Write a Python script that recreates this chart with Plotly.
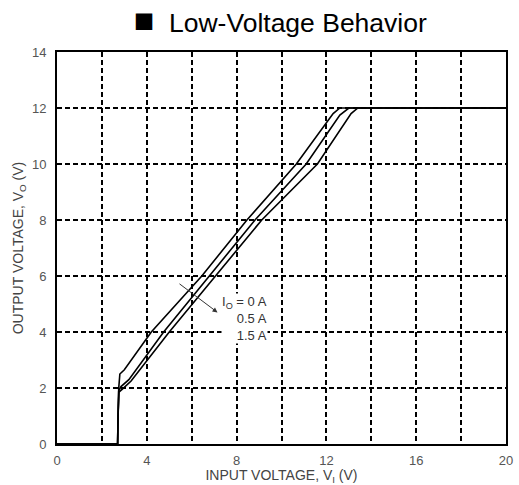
import plotly.graph_objects as go

# Data
vi_0a = [0, 2.7, 2.72, 2.75, 2.8, 3.0, 4.2, 6.45, 8.46, 10.66, 12.3, 12.6, 20]
vo_0a = [0, 0, 1.0, 2.0, 2.5, 2.65, 4.0, 6.0, 8.0, 10.0, 11.8, 12.0, 12.0]
vi_05a = [0, 2.7, 2.72, 2.75, 2.85, 3.2, 4.75, 6.8, 8.82, 11.1, 12.6, 13.0, 20]
vo_05a = [0, 0, 1.0, 1.9, 2.05, 2.3, 4.0, 6.0, 8.0, 10.0, 11.75, 12.0, 12.0]
vi_15a = [0, 2.7, 2.72, 2.76, 2.9, 3.3, 5.0, 7.06, 9.12, 11.6, 13.1, 13.4, 20]
vo_15a = [0, 0, 1.0, 1.85, 1.95, 2.25, 4.0, 6.0, 8.0, 10.0, 11.8, 12.0, 12.0]

load_labels = ["I<sub>O</sub> = 0 A", "0.5 A", "1.5 A"]

FONT = "Liberation Sans, Arial"
grid = dict(showgrid=True, gridcolor="black", griddash="5px,3px", gridwidth=1.6)

fig = go.Figure()
for xs, ys in [(vi_0a, vo_0a), (vi_05a, vo_05a), (vi_15a, vo_15a)]:
    fig.add_trace(go.Scatter(x=xs, y=ys, mode="lines",
                             line=dict(color="black", width=1.6),
                             showlegend=False, hoverinfo="skip"))

fig.add_annotation(x=9.4, y=4.5, text="<br>".join(load_labels), showarrow=False,
                   xanchor="right", yanchor="middle", align="right",
                   bgcolor="white", borderpad=0,
                   font=dict(family=FONT, size=13, color="#333"))
fig.add_annotation(x=7.15, y=4.7, ax=5.39, ay=5.76, xref="x", yref="y",
                   axref="x", ayref="y", showarrow=True, arrowhead=2,
                   arrowsize=1, arrowwidth=1, arrowcolor="#333", text="")

fig.update_layout(
    width=519, height=485,
    margin=dict(l=57, r=6, t=52, b=37),
    paper_bgcolor="white", plot_bgcolor="white",
    title=dict(text="<span style='font-size:34px'>■</span>  Low-Voltage Behavior",
               x=0.54, xanchor="center", y=0.953, yanchor="middle",
               font=dict(family=FONT, size=26.5, color="black")),
    xaxis=dict(range=[0, 20], dtick=4, **grid,
               minor=dict(dtick=2, **grid),
               showline=True, linecolor="black", linewidth=2, mirror=True,
               zeroline=False, ticks="", ticklabelstandoff=3,
               tickfont=dict(family=FONT, size=13, color="#555"),
               title=dict(text="INPUT VOLTAGE, V<sub>I</sub> (V)", standoff=2,
                          font=dict(family=FONT, size=14, color="#444"))),
    yaxis=dict(range=[0, 14], dtick=2, **grid,
               showline=True, linecolor="black", linewidth=2, mirror=True,
               zeroline=False, ticks="", ticklabelstandoff=6,
               tickfont=dict(family=FONT, size=13, color="#555"),
               title=dict(text="OUTPUT VOLTAGE, V<sub>O</sub> (V)", standoff=5,
                          font=dict(family=FONT, size=14, color="#444"))),
)

fig.write_html("out.html", config={"displayModeBar": False},
               post_script="document.body.style.margin='0';")
